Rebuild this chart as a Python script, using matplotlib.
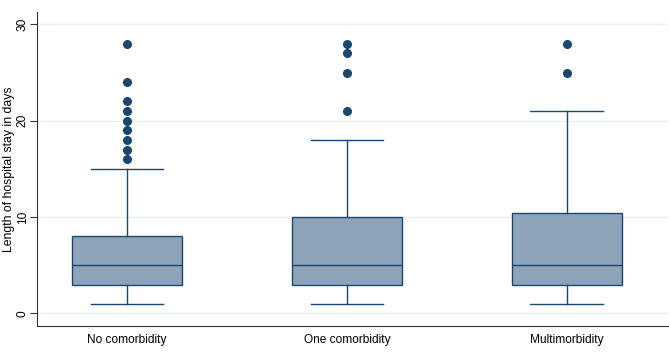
import matplotlib.pyplot as plt

plt.rcParams["font.family"] = ["Liberation Sans", "DejaVu Sans"]

# data
groups = ["No comorbidity", "One comorbidity", "Multimorbidity"]
whisker_low = [1, 1, 1]
q1 = [3, 3, 3]
median = [5, 5, 5]
q3 = [8, 10, 10.4]
whisker_high = [15, 18, 21]
outliers = [
    [16, 17, 18, 19, 20, 21, 22, 24, 28],
    [21, 25, 27, 28],
    [25, 28],
]

navy = "#1a476f"
fill = "#8ea3b8"
grid = "#eaf0f4"

stats = []
for i, g in enumerate(groups):
    stats.append({
        "label": g,
        "whislo": whisker_low[i],
        "q1": q1[i],
        "med": median[i],
        "q3": q3[i],
        "whishi": whisker_high[i],
        "fliers": outliers[i],
    })

fig = plt.figure(figsize=(6.69, 3.59), dpi=100)
ax = fig.add_axes([0.0553, 0.092, 0.943, 0.875])

ax.bxp(stats, positions=[1, 2, 3], widths=0.5, patch_artist=True,
       showcaps=True,
       boxprops=dict(facecolor=fill, edgecolor=navy, linewidth=1.0),
       medianprops=dict(color=navy, linewidth=1.0),
       whiskerprops=dict(color=navy, linewidth=1.0),
       capprops=dict(color=navy, linewidth=1.0),
       capwidths=0.33,
       flierprops=dict(marker="o", markerfacecolor=navy, markeredgecolor=navy,
                       markersize=5.5, linestyle="none"))

ax.set_xlim(0.59, 3.46)
ax.set_ylim(-1.3, 31.3)
ax.set_yticks([0, 10, 20, 30])
ax.yaxis.grid(True, color=grid, linewidth=1.0)
ax.set_axisbelow(True)

for s in ["top", "right"]:
    ax.spines[s].set_visible(False)
for s in ["left", "bottom"]:
    ax.spines[s].set_color("#333333")
    ax.spines[s].set_linewidth(0.8)

ax.tick_params(axis="x", length=0, labelsize=8.6, pad=6, colors="#000000")
ax.tick_params(axis="y", length=5, width=0.8, labelsize=8.6, color="#333333", pad=1)
for lab in ax.get_yticklabels():
    lab.set_rotation(90)
    lab.set_va("center")

ax.set_ylabel("Length of hospital stay in days", fontsize=8.8, labelpad=1)

fig.savefig("out.png", dpi=100)
